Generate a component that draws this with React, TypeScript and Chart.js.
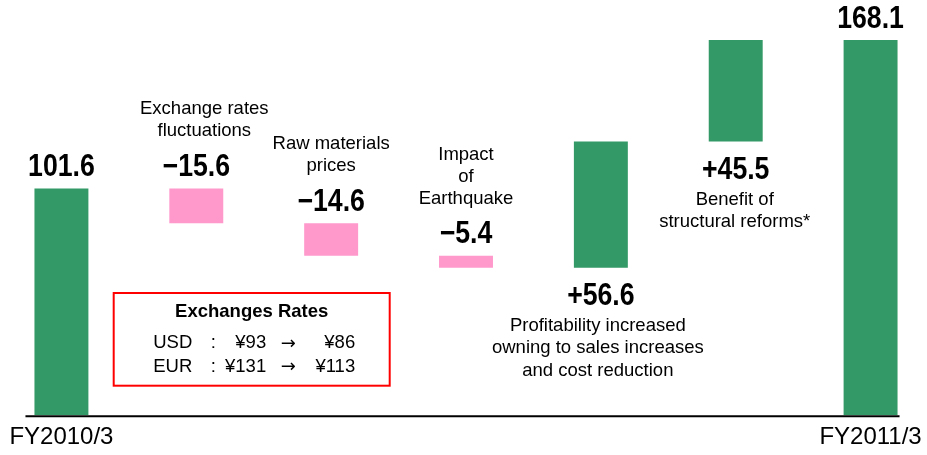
import React, { useEffect, useRef } from "react";
import { Chart, registerables } from "chart.js";

Chart.register(...registerables);

// ---- data ----
const categories = [
  "FY2010/3",
  "Exchange rates fluctuations",
  "Raw materials prices",
  "Impact of Earthquake",
  "Profitability increased",
  "Benefit of structural reforms*",
  "FY2011/3",
];
const xTickLabels = ["FY2010/3", "", "", "", "", "", "FY2011/3"];
const startTotal = 101.6;
const changes = [-15.6, -14.6, -5.4, 56.6, 45.5];
const endTotal = 168.1;
const valueLabels = ["101.6", "\u221215.6", "\u221214.6", "\u22125.4", "+56.6", "+45.5", "168.1"];
const descriptions: string[][] = [
  [],
  ["Exchange rates", "fluctuations"],
  ["Raw materials", "prices"],
  ["Impact", "of", "Earthquake"],
  ["Profitability increased", "owning to sales increases", "and cost reduction"],
  ["Benefit of", "structural reforms*"],
  [],
];
// label placement: 'above' bar top or 'below' bar bottom
const labelPlacement = ["above", "above", "above", "above", "below", "below", "above"];

const rateTitle = "Exchanges Rates";
const currencies = ["USD", "EUR"];
const ratesFrom = ["¥93", "¥131"];
const ratesTo = ["¥86", "¥113"];

// ---- styles ----
const GREEN = "#339966";
const PINK = "#FF99CC";
const NUM_FONT = 'bold 31px "Liberation Sans", Arial, sans-serif';
const NUM_SCALE_X = 0.86;
const TXT_FONT = '18.5px "Liberation Sans", Arial, sans-serif';
const TXT_BOLD = 'bold 18.5px "Liberation Sans", Arial, sans-serif';
const ARROW_FONT = '18px "DejaVu Sans", sans-serif';
const DESC_DX = [0, 8, 0, 0, -3, -1, 0];

function buildRanges(): [number, number][] {
  const out: [number, number][] = [[0, startTotal]];
  let run = startTotal;
  for (const c of changes) {
    const next = Math.round((run + c) * 10) / 10;
    out.push([Math.min(run, next), Math.max(run, next)]);
    run = next;
  }
  out.push([0, endTotal]);
  return out;
}

function drawNarrow(ctx: CanvasRenderingContext2D, text: string, x: number, y: number) {
  ctx.save();
  ctx.font = NUM_FONT;
  ctx.textAlign = "center";
  ctx.textBaseline = "middle";
  ctx.translate(x, y);
  ctx.scale(NUM_SCALE_X, 1);
  ctx.fillText(text, 0, 0);
  ctx.restore();
}

const textPlugin = {
  id: "waterfallText",
  afterDatasetsDraw(chart: any) {
    const ctx = chart.ctx as CanvasRenderingContext2D;
    const meta = chart.getDatasetMeta(0);
    ctx.save();
    ctx.fillStyle = "#000";
    ctx.textAlign = "center";
    ctx.textBaseline = "middle";
    meta.data.forEach((bar: any, i: number) => {
      const p = bar.getProps(["x", "y", "base", "width"], true);
      const top = Math.min(p.y, p.base);
      const bottom = Math.max(p.y, p.base);
      const lines = descriptions[i];
      ctx.textAlign = "center";
      if (labelPlacement[i] === "above") {
        const vy = top - 21;
        drawNarrow(ctx, valueLabels[i], p.x, vy);
        ctx.font = TXT_FONT;
        for (let k = 0; k < lines.length; k++) {
          const ly = vy - 36 - (lines.length - 1 - k) * 22;
          ctx.fillText(lines[k], p.x + DESC_DX[i], ly);
        }
      } else {
        const vy = bottom + 29;
        drawNarrow(ctx, valueLabels[i], p.x, vy);
        ctx.font = TXT_FONT;
        for (let k = 0; k < lines.length; k++) {
          const ly = vy + 29 + k * 22.5;
          ctx.fillText(lines[k], p.x + DESC_DX[i], ly);
        }
      }
    });

    // baseline axis line
    const first = meta.data[0];
    const last = meta.data[meta.data.length - 1];
    const y0 = chart.scales.y.getPixelForValue(0);
    ctx.strokeStyle = "#000";
    ctx.lineWidth = 2;
    ctx.beginPath();
    ctx.moveTo(first.x - first.width / 2 - 9, y0 + 1);
    ctx.lineTo(last.x + last.width / 2 + 2, y0 + 1);
    ctx.stroke();

    // exchange rate box
    const bx = 119.7, by = 293, bw = 276, bh = 92.7;
    ctx.strokeStyle = "#FF0000";
    ctx.lineWidth = 2;
    ctx.strokeRect(bx, by, bw, bh);
    ctx.font = TXT_BOLD;
    ctx.textAlign = "center";
    ctx.fillText(rateTitle, bx + bw / 2, by + 19);
    currencies.forEach((cur, r) => {
      const ry = by + 50 + r * 23.5;
      ctx.font = TXT_FONT;
      ctx.textAlign = "left";
      ctx.fillText(cur, bx + 39.5, ry);
      ctx.textAlign = "center";
      ctx.fillText(":", bx + 99.5, ry);
      ctx.textAlign = "right";
      ctx.fillText(ratesFrom[r], bx + 152.5, ry);
      ctx.textAlign = "right";
      ctx.fillText(ratesTo[r], bx + 241.5, ry);
      ctx.font = ARROW_FONT;
      ctx.textAlign = "center";
      ctx.fillText("\u2192", bx + 174.5, ry + 1);
    });
    ctx.restore();
  },
};

export default function App() {
  const ref = useRef<HTMLCanvasElement | null>(null);
  useEffect(() => {
    if (!ref.current) return;
    const ranges = buildRanges();
    const colors = ranges.map((_, i) =>
      i === 0 || i === ranges.length - 1 ? GREEN : changes[i - 1] < 0 ? PINK : GREEN
    );
    const chart = new Chart(ref.current, {
      type: "bar",
      data: {
        labels: categories,
        datasets: [
          {
            data: ranges as any,
            backgroundColor: colors,
            borderWidth: 0,
            barPercentage: 0.4,
            categoryPercentage: 1,
          },
        ],
      },
      options: {
        animation: false,
        responsive: false,
        devicePixelRatio: 1,
        layout: { padding: { top: 0, bottom: 3, left: 0, right: 0 } },
        plugins: { legend: { display: false }, tooltip: { enabled: false } },
        scales: {
          x: {
            grid: { display: false, drawTicks: false, tickLength: 0 },
            border: { display: false },
            ticks: {
              autoSkip: false,
              maxRotation: 0,
              padding: 8,
              color: "#000",
              font: { family: '"Liberation Sans", Arial, sans-serif', size: 24 },
              callback: (_v: any, i: number) => xTickLabels[i],
            },
          },
          y: { display: false, min: 0, max: 186 },
        },
      },
      plugins: [textPlugin],
    });
    return () => chart.destroy();
  }, []);
  return (
    <div style={{ position: "fixed", left: 0, top: 0, width: 927, height: 455, overflow: "hidden", background: "#fff" }}>
      <canvas ref={ref} width={944} height={463} style={{ position: "absolute", left: -6, top: 0 }} />
    </div>
  );
}
